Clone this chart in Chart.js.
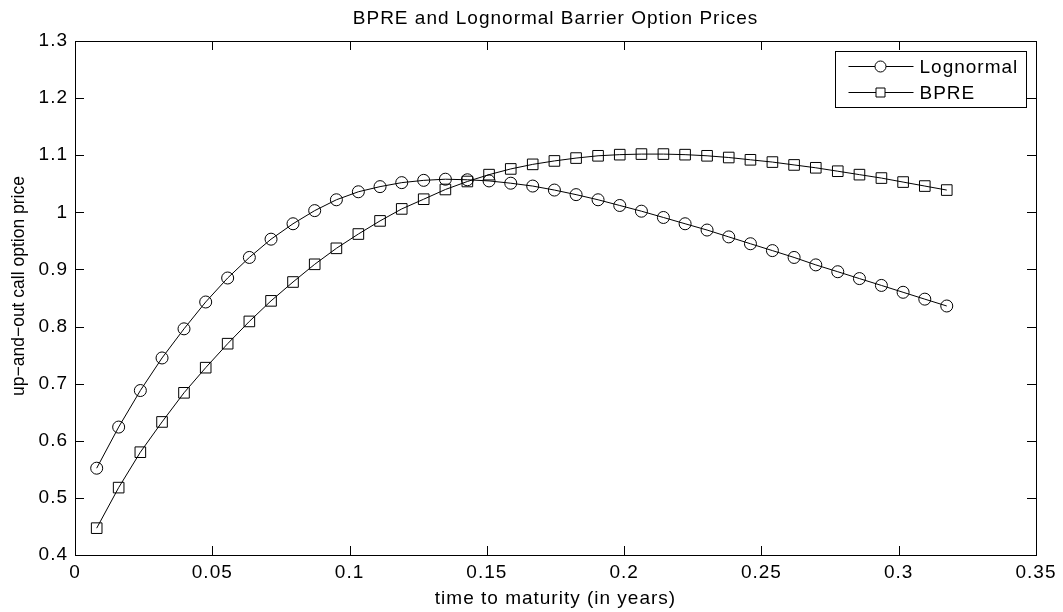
<!DOCTYPE html>
<html>
<head>
<meta charset="utf-8">
<title>BPRE and Lognormal Barrier Option Prices</title>
<script src="https://cdn.jsdelivr.net/npm/chart.js"></script>
<style>
  html, body { margin: 0; padding: 0; background: #fff; }
  #chart { display: block; }
</style>
</head>
<body>
<canvas id="chart" width="1063" height="612"></canvas>
<script>
// time to maturity, in years (every second trading day)
const maturities = [
  0.0079, 0.0159, 0.0238, 0.0317, 0.0397, 0.0476, 0.0556, 0.0635, 0.0714, 0.0794,
  0.0873, 0.0952, 0.1032, 0.1111, 0.1190, 0.1270, 0.1349, 0.1429, 0.1508, 0.1587,
  0.1667, 0.1746, 0.1825, 0.1905, 0.1984, 0.2063, 0.2143, 0.2222, 0.2302, 0.2381,
  0.2460, 0.2540, 0.2619, 0.2698, 0.2778, 0.2857, 0.2937, 0.3016, 0.3095, 0.3175,
];

const lognormalPrices = [
  0.552, 0.624, 0.688, 0.745, 0.796, 0.843, 0.885, 0.921, 0.953, 0.980,
  1.003, 1.022, 1.036, 1.045, 1.052, 1.056, 1.058, 1.057, 1.055, 1.051,
  1.046, 1.039, 1.031, 1.022, 1.012, 1.002, 0.991, 0.980, 0.969, 0.957,
  0.945, 0.933, 0.921, 0.908, 0.896, 0.884, 0.872, 0.860, 0.848, 0.836,
];

const bprePrices = [
  0.447, 0.518, 0.580, 0.633, 0.684, 0.728, 0.770, 0.809, 0.845, 0.878,
  0.909, 0.937, 0.962, 0.985, 1.006, 1.023, 1.040, 1.054, 1.066, 1.076,
  1.084, 1.090, 1.095, 1.099, 1.101, 1.102, 1.102, 1.101, 1.099, 1.096,
  1.092, 1.088, 1.083, 1.078, 1.072, 1.066, 1.060, 1.053, 1.046, 1.039,
];

const xTickValues = [0, 0.05, 0.1, 0.15, 0.2, 0.25, 0.3, 0.35];
const xTickLabels = ["0", "0.05", "0.1", "0.15", "0.2", "0.25", "0.3", "0.35"];
const yTickValues = [0.4, 0.5, 0.6, 0.7, 0.8, 0.9, 1.0, 1.1, 1.2, 1.3];
const yTickLabels = ["0.4", "0.5", "0.6", "0.7", "0.8", "0.9", "1", "1.1", "1.2", "1.3"];

const yAxisTitle = "up\u2212and\u2212out call option price";

const FONT = '"Liberation Sans", Arial, Helvetica, sans-serif';
const TICK_LEN = 9;

Chart.defaults.color = "#000";
Chart.defaults.font.family = FONT;

// the original text is a bit wider than plain Arial, so widen it a little
const spacingPlugin = {
  id: "letterSpacing",
  beforeDraw(chart) {
    chart.ctx.letterSpacing = "1px";
  },
};

// matlab style box: frame on all sides with inward ticks, plus y label
const framePlugin = {
  id: "matlabFrame",
  afterDatasetsDraw(chart) {
    const { ctx, chartArea: a } = chart;
    const { x, y } = chart.scales;
    ctx.save();
    ctx.strokeStyle = "#000";
    ctx.lineWidth = 1;
    ctx.beginPath();
    x.ticks.forEach((t) => {
      const px = Math.round(x.getPixelForValue(t.value)) + 0.5;
      ctx.moveTo(px, a.bottom);
      ctx.lineTo(px, a.bottom - TICK_LEN);
      ctx.moveTo(px, a.top);
      ctx.lineTo(px, a.top + TICK_LEN);
    });
    y.ticks.forEach((t) => {
      const py = Math.round(y.getPixelForValue(t.value)) + 0.5;
      ctx.moveTo(a.left, py);
      ctx.lineTo(a.left + TICK_LEN, py);
      ctx.moveTo(a.right, py);
      ctx.lineTo(a.right - TICK_LEN, py);
    });
    ctx.stroke();
    ctx.strokeRect(Math.round(a.left) + 0.5, Math.round(a.top) + 0.5,
      Math.round(a.right - a.left), Math.round(a.bottom - a.top));

    // y label, rotated, no extra spacing
    ctx.letterSpacing = "0px";
    ctx.translate(19, (a.top + a.bottom) / 2 - 12);
    ctx.rotate(-Math.PI / 2);
    ctx.font = "17.5px " + FONT;
    ctx.fillStyle = "#000";
    ctx.textAlign = "center";
    ctx.textBaseline = "middle";
    ctx.fillText(yAxisTitle, 0, 0);
    ctx.restore();
  },
};

// boxed legend with line-through-marker samples
const legendPlugin = {
  id: "matlabLegend",
  afterDraw(chart) {
    const { ctx, chartArea: a } = chart;
    const boxW = 191;
    const boxH = 56;
    const left = Math.round(a.right - 10 - boxW) + 0.5;
    const top = Math.round(a.top + 10) + 0.5;

    ctx.save();
    ctx.fillStyle = "#fff";
    ctx.fillRect(left, top, boxW, boxH);
    ctx.strokeStyle = "#000";
    ctx.lineWidth = 1;
    ctx.strokeRect(left, top, boxW, boxH);

    ctx.font = "19px " + FONT;
    ctx.textBaseline = "middle";
    ctx.textAlign = "left";

    chart.data.datasets.forEach((ds, i) => {
      const cy = Math.round(top + 14 + i * 26.5) + 0.5;
      ctx.beginPath();
      ctx.moveTo(left + 13, cy);
      ctx.lineTo(left + 78, cy);
      ctx.stroke();
      const mx = left + 45;
      ctx.beginPath();
      if (ds.pointStyle === "rect") {
        ctx.rect(mx - 4.5, cy - 4.5, 9, 9);
      } else {
        ctx.arc(mx, cy, 5.5, 0, Math.PI * 2);
      }
      ctx.fillStyle = "#fff";
      ctx.fill();
      ctx.stroke();
      ctx.fillStyle = "#000";
      ctx.fillText(ds.label, left + 84, cy + 1);
    });
    ctx.restore();
  },
};

const toPoints = (ys) => maturities.map((t, i) => ({ x: t, y: ys[i] }));

new Chart(document.getElementById("chart"), {
  type: "line",
  data: {
    datasets: [
      {
        label: "Lognormal",
        data: toPoints(lognormalPrices),
        borderColor: "#000",
        borderWidth: 1,
        tension: 0,
        pointStyle: "circle",
        pointRadius: 6,
        pointBorderWidth: 1,
        pointBorderColor: "#000",
        pointBackgroundColor: "rgba(0,0,0,0)",
      },
      {
        label: "BPRE",
        data: toPoints(bprePrices),
        borderColor: "#000",
        borderWidth: 1,
        tension: 0,
        pointStyle: "rect",
        pointRadius: 7.5,
        pointBorderWidth: 1,
        pointBorderColor: "#000",
        pointBackgroundColor: "rgba(0,0,0,0)",
      },
    ],
  },
  options: {
    responsive: false,
    animation: false,
    events: [],
    layout: {
      padding: { left: 0, right: 27, top: 0, bottom: 0 },
    },
    plugins: {
      legend: { display: false },
      tooltip: { enabled: false },
      title: {
        display: true,
        fullSize: false,
        text: "BPRE and Lognormal Barrier Option Prices",
        color: "#000",
        font: { family: FONT, size: 19, weight: "normal" },
        padding: { top: 7, bottom: 11.2 },
      },
    },
    scales: {
      x: {
        type: "linear",
        min: 0,
        max: 0.35,
        grid: { display: false, drawTicks: false },
        border: { display: false },
        afterBuildTicks: (scale) => {
          scale.ticks = xTickValues.map((v) => ({ value: v }));
        },
        afterFit: (scale) => {
          scale.height = 57;
        },
        ticks: {
          padding: 6,
          maxRotation: 0,
          autoSkip: false,
          font: { size: 19 },
          callback: (v, i) => xTickLabels[i],
        },
        title: {
          display: true,
          text: "time to maturity (in years)",
          font: { size: 19 },
          padding: { top: 0, bottom: 1.6 },
        },
      },
      y: {
        type: "linear",
        min: 0.4,
        max: 1.3,
        grid: { display: false, drawTicks: false },
        border: { display: false },
        afterBuildTicks: (scale) => {
          scale.ticks = yTickValues.map((v) => ({ value: v }));
        },
        afterFit: (scale) => {
          scale.width = 75;
        },
        ticks: {
          padding: 7,
          autoSkip: false,
          font: { size: 19 },
          callback: (v, i) => yTickLabels[i],
        },
        title: { display: false },
      },
    },
  },
  plugins: [spacingPlugin, framePlugin, legendPlugin],
});
</script>
</body>
</html>
